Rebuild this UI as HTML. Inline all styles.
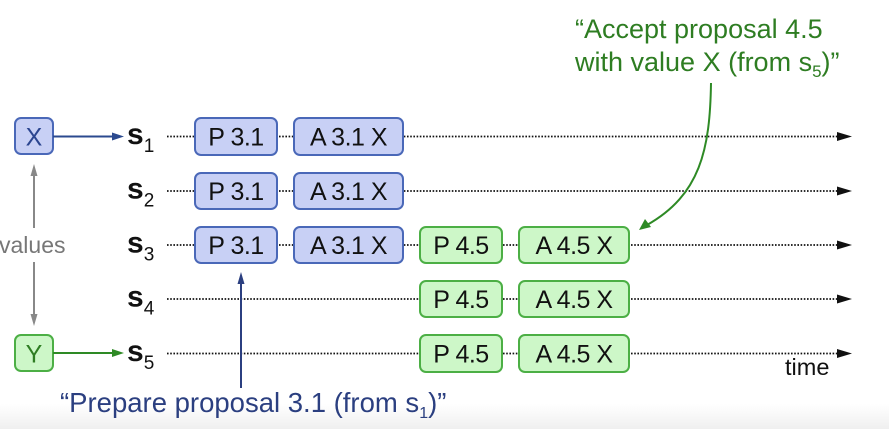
<!DOCTYPE html>
<html><head><meta charset="utf-8"><style>
html,body{margin:0;padding:0;background:#fff;}
svg{display:block;}
text{font-family:"Liberation Sans",Arial,sans-serif;}
</style></head><body>
<svg width="889" height="429" viewBox="0 0 889 429" xmlns="http://www.w3.org/2000/svg">
<defs>
<linearGradient id="bg" x1="0" y1="0" x2="0" y2="1">
<stop offset="0" stop-color="#ffffff"/><stop offset="1" stop-color="#efefef"/>
</linearGradient>
</defs>
<rect x="0" y="0" width="889" height="429" fill="#fff"/>
<rect x="0" y="404" width="889" height="25" fill="url(#bg)"/>

<!-- dotted timelines -->
<g stroke="#111" stroke-width="1.8" stroke-dasharray="1.6 1.6" fill="none">
<line x1="167" y1="136.5" x2="840" y2="136.5"/>
<line x1="167" y1="191" x2="840" y2="191"/>
<line x1="167" y1="245" x2="840" y2="245"/>
<line x1="167" y1="299" x2="840" y2="299"/>
<line x1="167" y1="353.5" x2="840" y2="353.5"/>
</g>
<g fill="#111">
<polygon points="837,132 852,136.5 837,141"/>
<polygon points="837,186.5 852,191 837,195.5"/>
<polygon points="837,240.5 852,245 837,249.5"/>
<polygon points="837,294.5 852,299 837,303.5"/>
<polygon points="837,349 852,353.5 837,358"/>
</g>

<!-- blue boxes -->
<g fill="#c8d0f5" stroke="#4a68b8" stroke-width="2">
<rect x="195" y="118" width="82" height="37" rx="6"/>
<rect x="294" y="118" width="109" height="37" rx="6"/>
<rect x="195" y="173" width="82" height="36" rx="6"/>
<rect x="294" y="173" width="109" height="36" rx="6"/>
<rect x="195" y="227" width="82" height="36" rx="6"/>
<rect x="294" y="227" width="109" height="36" rx="6"/>
<rect x="15" y="118" width="38" height="36" rx="6"/>
</g>
<!-- green boxes -->
<g fill="#cdf7c8" stroke="#4caf45" stroke-width="2">
<rect x="420" y="227" width="82" height="36" rx="6"/>
<rect x="519" y="227" width="110" height="36" rx="6"/>
<rect x="420" y="281" width="82" height="36" rx="6"/>
<rect x="519" y="281" width="110" height="36" rx="6"/>
<rect x="420" y="335" width="82" height="37" rx="6"/>
<rect x="519" y="335" width="110" height="37" rx="6"/>
<rect x="15" y="335" width="38" height="36" rx="6"/>
</g>

<!-- box labels -->
<g font-size="25" fill="#111" text-anchor="middle" letter-spacing="-0.5">
<text x="236" y="145.5">P 3.1</text>
<text x="348.5" y="145.5">A 3.1 X</text>
<text x="236" y="200">P 3.1</text>
<text x="348.5" y="200">A 3.1 X</text>
<text x="236" y="254">P 3.1</text>
<text x="348.5" y="254">A 3.1 X</text>
<text x="461" y="254">P 4.5</text>
<text x="574" y="254">A 4.5 X</text>
<text x="461" y="308">P 4.5</text>
<text x="574" y="308">A 4.5 X</text>
<text x="461" y="362.5">P 4.5</text>
<text x="574" y="362.5">A 4.5 X</text>
</g>
<text x="34" y="145.5" font-size="25" fill="#2b4590" text-anchor="middle">X</text>
<text x="34" y="362.5" font-size="25" fill="#2e7d22" text-anchor="middle">Y</text>

<!-- server labels -->
<g fill="#111" font-weight="bold">
<text x="127" y="144" font-size="30">s<tspan font-size="19" font-weight="normal" dy="8">1</tspan></text>
<text x="127" y="198.5" font-size="30">s<tspan font-size="19" font-weight="normal" dy="8">2</tspan></text>
<text x="127" y="252.5" font-size="30">s<tspan font-size="19" font-weight="normal" dy="8">3</tspan></text>
<text x="127" y="306.5" font-size="30">s<tspan font-size="19" font-weight="normal" dy="8">4</tspan></text>
<text x="127" y="361" font-size="30">s<tspan font-size="19" font-weight="normal" dy="8">5</tspan></text>
</g>

<!-- value arrows -->
<line x1="53" y1="136.5" x2="114" y2="136.5" stroke="#2b4a8f" stroke-width="2"/>
<polygon points="112,132.5 124,136.5 112,140.5" fill="#2b4a8f"/>
<line x1="53" y1="353" x2="114" y2="353" stroke="#2e8a25" stroke-width="2"/>
<polygon points="112,349 124,353 112,357" fill="#2e8a25"/>

<!-- gray arrows -->
<line x1="34" y1="228" x2="34" y2="174" stroke="#888" stroke-width="2"/>
<polygon points="30.5,176 34,164 37.5,176" fill="#888"/>
<line x1="34" y1="262" x2="34" y2="316" stroke="#888" stroke-width="2"/>
<polygon points="30.5,314 34,326 37.5,314" fill="#888"/>
<text x="-1" y="253" font-size="23" fill="#777">values</text>

<!-- blue callout -->
<line x1="241" y1="388" x2="241" y2="282" stroke="#2b3f80" stroke-width="2"/>
<polygon points="237.5,284 241,272 244.5,284" fill="#2b3f80"/>
<text x="60" y="412" font-size="27.5" fill="#2b3f80">“Prepare proposal 3.1 (from s<tspan font-size="16" dy="6">1</tspan><tspan dy="-6">)”</tspan></text>

<!-- green callout -->
<text x="575" y="38" font-size="27" fill="#2e7d22">“Accept proposal 4.5</text>
<text x="575" y="71" font-size="27" fill="#2e7d22">with value X (from s<tspan font-size="17" dy="6">5</tspan><tspan dy="-6">)”</tspan></text>
<path d="M711,83 C710,150 700,195 647,225" stroke="#2e8a25" stroke-width="2" fill="none"/>
<polygon points="639,230 645,219 651,227" fill="#2e8a25"/>

<text x="785" y="375" font-size="23.5" fill="#111">time</text>
</svg>
</body></html>
